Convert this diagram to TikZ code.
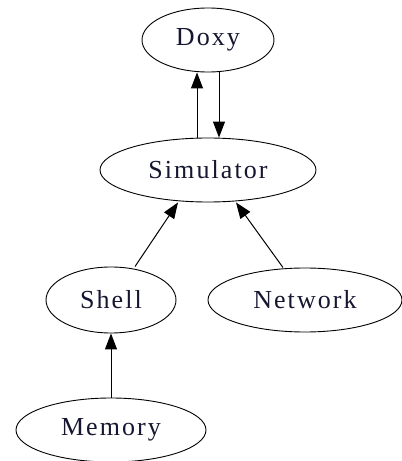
\documentclass[tikz,border=0pt]{standalone}
\usepackage{fontspec}
\setmainfont[LetterSpace=8]{Liberation Serif}
\usepackage{tikz}
\usetikzlibrary{calc}
\usetikzlibrary{positioning}
\usetikzlibrary{shapes.geometric}
\usetikzlibrary{arrows.meta}
\definecolor{labelink}{RGB}{22,22,48}
\tikzstyle{classnode} = [draw, ellipse, line width=0.9pt, inner sep=0, minimum height=64pt, text=labelink, font=\fontsize{26}{30}\selectfont]
\tikzstyle{deparrow} = [line width=1pt, -{Triangle[length=16pt,width=12pt]}]

\begin{document}
\begin{tikzpicture}[x=1pt,y=1pt]
    \useasboundingbox (0,0) rectangle (402,461);
    \node[classnode, minimum width=132pt] (doxy) at (208,421) {Doxy};
    \node[classnode, minimum width=216pt] (simulator) at ($(doxy)+(0,-130)$) {Simulator};
    \node[classnode, minimum width=130pt, minimum height=66pt] (shell) at ($(simulator)+(-97,-130)$) {Shell};
    \node[classnode, minimum width=194pt] (network) at ($(simulator)+(97,-130)$) {Network};
    \node[classnode, minimum width=190pt] (memory) at ($(shell)+(0,-130)$) {Memory};

    \draw[deparrow] ([xshift=-11pt]simulator.north) -- ([xshift=-11pt]doxy.south);
    \draw[deparrow] ([xshift=11pt]doxy.south) -- ([xshift=11pt]simulator.north);
    \draw[deparrow] ($(shell.north)+(24,0)$) -- ($(simulator.south)+(-30,0)$);
    \draw[deparrow] ($(network.north)+(-22,0)$) -- ($(simulator.south)+(28,0)$);
    \draw[deparrow] (memory.north) -- (shell.south);
\end{tikzpicture}
\end{document}
